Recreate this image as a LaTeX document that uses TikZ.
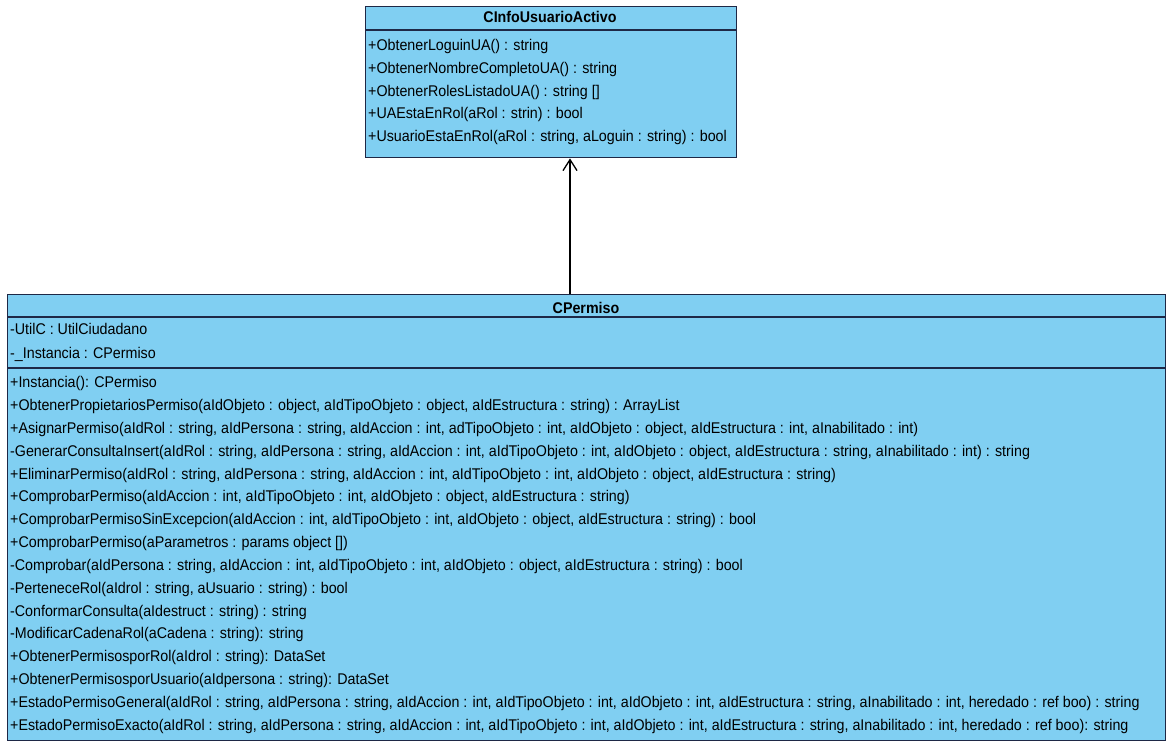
\documentclass[tikz,border=0pt]{standalone}
\usepackage{fontspec}
\setmainfont{Liberation Sans}[FakeStretch=0.92]
\usetikzlibrary{arrows.meta,calc}
\definecolor{umlfill}{RGB}{128,207,242}
\definecolor{umlline}{RGB}{30,40,70}
\begin{document}
\begin{tikzpicture}[x=1pt,y=-1pt,
  classbox/.style={draw=umlline,fill=umlfill,line width=1.4pt,inner sep=0pt,anchor=north west},
  sepline/.style={draw=umlline,line width=1.2pt},
  row/.style={anchor=base west,inner sep=0pt,font=\fontsize{15.5}{17}\selectfont},
  ttl/.style={anchor=base,inner sep=0pt,font=\fontsize{15.5}{17}\selectfont\bfseries},
  assoc/.style={draw=black,line width=1.3pt,-{Straight Barb[length=11pt,width=14pt,line width=1.3pt]}}]
\useasboundingbox (0,0) rectangle (1169,744);
\fill[white] (0,0) rectangle (1169,744);
% top class
\node[classbox,minimum width=371pt,minimum height=151pt] (info) at (365,6) {};
\draw[sepline] ($(info.north west)+(0,24)$) -- ($(info.north east)+(0,24)$);
\node[ttl] (infot) at (550,23) {CInfoUsuarioActivo};
\node[row] (i1) at (368,50) {+ObtenerLoguinUA() : string};
\node[row] (i2) at (368,73) {+ObtenerNombreCompletoUA() : string};
\node[row] (i3) at (368,96) {+ObtenerRolesListadoUA() : string []};
\node[row] (i4) at (368,118) {+UAEstaEnRol(aRol : strin) : bool};
\node[row] (i5) at (368,141) {+UsuarioEstaEnRol(aRol : string, aLoguin : string) : bool};
% bottom class
\node[classbox,minimum width=1158pt,minimum height=446pt] (perm) at (7,294) {};
\draw[sepline] ($(perm.north west)+(0,23)$) -- ($(perm.north east)+(0,23)$);
\draw[sepline] ($(perm.north west)+(0,74)$) -- ($(perm.north east)+(0,74)$);
\node[ttl] (permt) at (586,313) {CPermiso};
\node[row] (a1) at (10,334) {-UtilC : UtilCiudadano};
\node[row] (a2) at (10,358) {-\_Instancia : CPermiso};
\node[row] (m1) at (10,387) {+Instancia(): CPermiso};
\node[row] (m2) at (10,410) {+ObtenerPropietariosPermiso(aIdObjeto : object, aIdTipoObjeto : object, aIdEstructura : string) : ArrayList};
\node[row] (m3) at (10,433) {+AsignarPermiso(aIdRol : string, aIdPersona : string, aIdAccion : int, adTipoObjeto : int, aIdObjeto : object, aIdEstructura : int, aInabilitado : int)};
\node[row] (m4) at (10,456) {-GenerarConsultaInsert(aIdRol : string, aIdPersona : string, aIdAccion : int, aIdTipoObjeto : int, aIdObjeto : object, aIdEstructura : string, aInabilitado : int) : string};
\node[row] (m5) at (10,479) {+EliminarPermiso(aIdRol : string, aIdPersona : string, aIdAccion : int, aIdTipoObjeto : int, aIdObjeto : object, aIdEstructura : string)};
\node[row] (m6) at (10,501) {+ComprobarPermiso(aIdAccion : int, aIdTipoObjeto : int, aIdObjeto : object, aIdEstructura : string)};
\node[row] (m7) at (10,524) {+ComprobarPermisoSinExcepcion(aIdAccion : int, aIdTipoObjeto : int, aIdObjeto : object, aIdEstructura : string) : bool};
\node[row] (m8) at (10,547) {+ComprobarPermiso(aParametros : params object [])};
\node[row] (m9) at (10,570) {-Comprobar(aIdPersona : string, aIdAccion : int, aIdTipoObjeto : int, aIdObjeto : object, aIdEstructura : string) : bool};
\node[row] (m10) at (10,593) {-PerteneceRol(aIdrol : string, aUsuario : string) : bool};
\node[row] (m11) at (10,616) {-ConformarConsulta(aIdestruct : string) : string};
\node[row] (m12) at (10,638) {-ModificarCadenaRol(aCadena : string): string};
\node[row] (m13) at (10,661) {+ObtenerPermisosporRol(aIdrol : string): DataSet};
\node[row] (m14) at (10,684) {+ObtenerPermisosporUsuario(aIdpersona : string): DataSet};
\node[row] (m15) at (10,707) {+EstadoPermisoGeneral(aIdRol : string, aIdPersona : string, aIdAccion : int, aIdTipoObjeto : int, aIdObjeto : int, aIdEstructura : string, aInabilitado : int, heredado : ref boo) : string};
\node[row] (m16) at (10,730) {+EstadoPermisoExacto(aIdRol : string, aIdPersona : string, aIdAccion : int, aIdTipoObjeto : int, aIdObjeto : int, aIdEstructura : string, aInabilitado : int, heredado : ref boo): string};
% association
\coordinate (ax) at (570,0);
\draw[assoc] (perm.north -| ax) -- (info.south -| ax);
\end{tikzpicture}
\end{document}
